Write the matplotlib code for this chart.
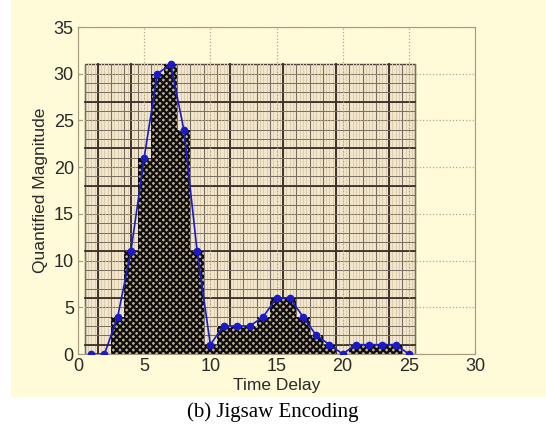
import numpy as np
import matplotlib.pyplot as plt
from matplotlib.patches import Rectangle

plt.rcParams['font.family'] = ['Liberation Sans', 'DejaVu Sans']
plt.rcParams['hatch.linewidth'] = 1.6

delay = np.arange(1, 26)
magnitude = [0, 0, 4, 11, 21, 30, 31, 24, 11, 1, 3, 3, 3, 4, 6, 6, 4, 2, 1, 0, 1, 1, 1, 1, 0]

xticks = [0, 5, 10, 15, 20, 25, 30]
yticks = [0, 5, 10, 15, 20, 25, 30, 35]

bg = '#fffad8'

fig = plt.figure(figsize=(5.46, 4.36), dpi=100, facecolor='white')
fig.patches.append(Rectangle((11/546, 1-397/436), 1, 397/436, transform=fig.transFigure,
                             facecolor=bg, edgecolor='none', zorder=-10))
ax = fig.add_axes([78/546, 1-354/436, 397/546, 327/436])
ax.set_facecolor(bg)

ax.set_xlim(0, 30)
ax.set_ylim(0, 35)
ax.set_xticks(xticks)
ax.set_yticks(yticks)
ax.grid(ls=':', c='#b8a888', lw=0.9, zorder=0)

# textured background block behind the bars
top = max(magnitude)
x0, x1 = delay[0]-0.5, delay[-1]+0.5
ax.add_patch(Rectangle((x0, 0), x1-x0, top, facecolor='#f2e7cc', edgecolor='#4a4038',
                       lw=1.0, zorder=1))
for xx in np.arange(x0, x1, 0.25):
    ax.plot([xx, xx], [0, top], c='#dccdb0', lw=0.7, zorder=1)
for xx in np.arange(x0, x1+0.01, 1.0):
    ax.plot([xx, xx], [0, top], c='#7a6e60', lw=0.8, zorder=1)
for xx in [1.5, 4.0, 7.0, 11.5, 15.5, 19.5, 23.5]:
    ax.plot([xx, xx], [0, top], c='#3e342c', lw=1.4, zorder=1)
for yy in range(1, top):
    ax.plot([x0, x1], [yy, yy], c='#786c5e', lw=0.7, zorder=1)
for yy in [1, 6, 11, 18, 22, 27]:
    ax.plot([x0, x1], [yy, yy], c='#3a3028', lw=1.3, zorder=1)

ax.bar(delay, magnitude, width=1.0, facecolor='#c0b094', edgecolor='#100e0c',
       hatch='xxxxx', lw=0, zorder=2)

ax.plot(delay, magnitude, c='#1a1ac8', lw=1.2, marker='o', ms=4.5, zorder=3)

for s in ax.spines.values():
    s.set_color('#a89a80')
ax.tick_params(direction='in', length=3, color='#a89a80', labelsize=13,
               labelcolor='#2a2a2a', pad=3)
ax.set_xlabel('Time Delay', fontsize=12.5, color='#2a2a2a', labelpad=2)
ax.set_ylabel('Quantified Magnitude', fontsize=12.5, color='#2a2a2a', labelpad=4)

fig.text(0.5, 1-412/436, '(b) Jigsaw Encoding', ha='center', va='center',
         fontsize=15, family=['Liberation Serif', 'DejaVu Serif'])

fig.savefig('out.png', dpi=100, facecolor='white')
